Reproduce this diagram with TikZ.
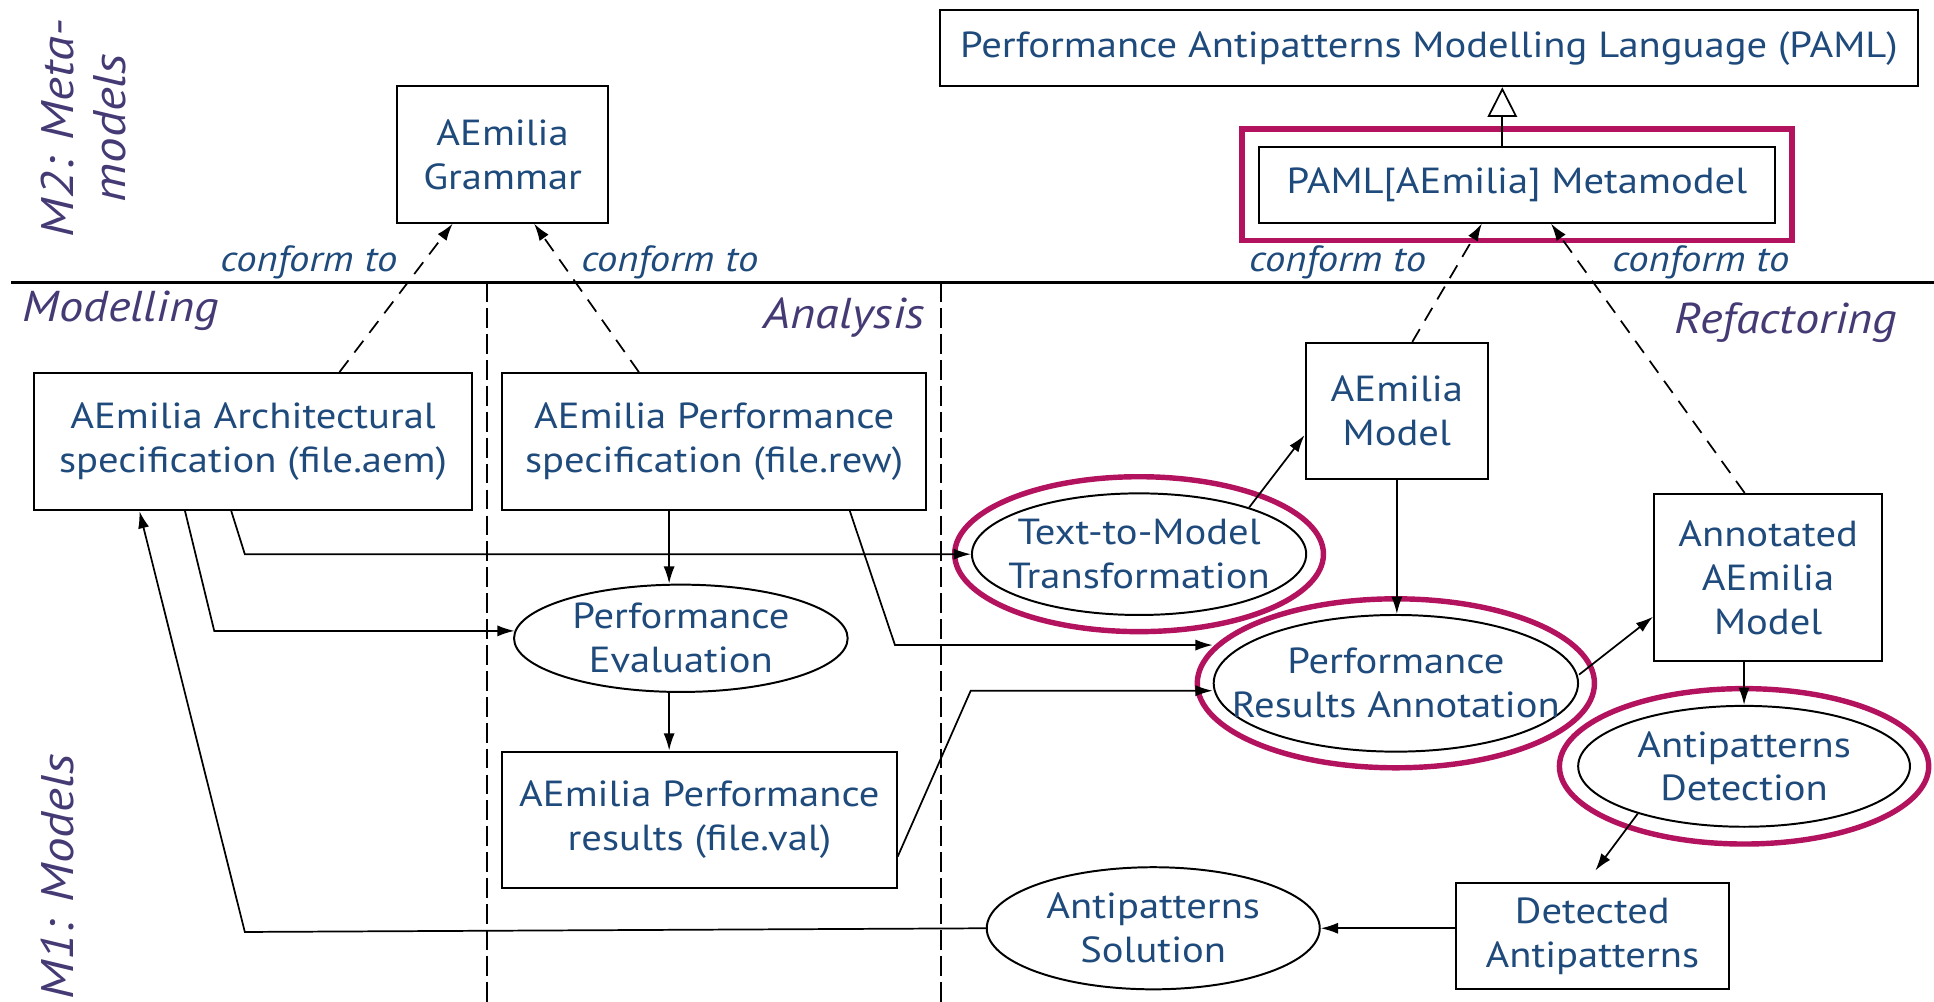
\documentclass[tikz,border=0pt]{standalone}
\usepackage{fontspec}
\setmainfont{PT Sans}[FakeStretch=1.12]
\usetikzlibrary{arrows.meta,shapes.geometric,calc}
\definecolor{txtblue}{HTML}{1F4A7C}
\definecolor{lblpurple}{HTML}{463A75}
\definecolor{hilite}{HTML}{B3135E}

\begin{document}
\begin{tikzpicture}[x=0.5pt,y=-0.5pt,
  every node/.style={font=\fontsize{14.7}{17.8}\selectfont, text=txtblue, align=center},
  box/.style={draw, line width=0.8pt, rectangle, inner sep=0pt},
  oval/.style={draw, line width=0.8pt, ellipse, inner sep=0pt},
  ring/.style={draw=hilite, line width=2.2pt},
  arr/.style={line width=0.7pt, -{Latex[length=7pt,width=4.5pt]}},
  dep/.style={arr, dash pattern=on 6pt off 4pt},
  lane/.style={line width=0.8pt, dash pattern=on 8pt off 2.5pt},
  conf/.style={font=\itshape\fontsize{14.7}{17.8}\selectfont, anchor=base},
  area/.style={font=\itshape\fontsize{17.5}{20}\selectfont, text=lblpurple, anchor=base},
  level/.style={font=\itshape\fontsize{18.5}{21}\selectfont, text=lblpurple, rotate=90}
]
\useasboundingbox (0,0) rectangle (1568,812);

% ---- level separator and swim lanes
\coordinate (sepL) at (9,229);
\coordinate (sepR) at (1568,229);
\draw[line width=1.3pt] (sepL) -- (sepR);
\coordinate (laneA) at (395,229);
\coordinate (laneB) at (763,229);
\draw[lane] (laneA) -- (laneA |- 0,812);
\draw[lane] (laneB) -- (laneB |- 0,812);

% ---- level and area labels
\node[level] (m2lbl) at (68,104) {M2: Meta-\\models};
\node[level] (m1lbl) at (47,711) {M1: Models};
\node[area] (lmod) at (98,261) {Modelling};
\node[area] (lana) at (684.5,266) {Analysis};
\node[area] (lref) at (1448,270) {Refactoring};

% ---- metamodels
\node[box, minimum width=396.5pt, minimum height=31pt] (paml) at (1158.5,39)
  {Performance Antipatterns Modelling Language (PAML)};
\node[box, minimum width=85.5pt, minimum height=55.25pt] (grammar) at (407.5,125.25)
  {AEmilia\\Grammar};
\node[box, minimum width=209.2pt, minimum height=30.75pt] (meta) at (1229.8,149.75)
  {PAML[AEmilia] Metamodel};
\draw[ring] ($(meta.north west)+(-13,-13.5)$) rectangle ($(meta.south east)+(13,13.5)$);

% ---- models
\node[box, minimum width=177.8pt, minimum height=55.5pt] (arch) at (205.2,358)
  {AEmilia Architectural\\specification (file.aem)};
\node[box, minimum width=172pt, minimum height=55.5pt] (perfspec) at (579,358)
  {AEmilia Performance\\specification (file.rew)};
\node[box, minimum width=74pt, minimum height=55.25pt] (amodel) at (1132.5,333.25)
  {AEmilia\\Model};
\node[box, minimum width=92.5pt, minimum height=67.75pt] (annot) at (1433.5,468.25)
  {Annotated\\AEmilia\\Model};
\node[box, minimum width=160pt, minimum height=55.15pt] (perfres) at (567,664.5)
  {AEmilia Performance\\results (file.val)};
\node[box, minimum width=110.65pt, minimum height=43.2pt] (detected) at (1291,758.8)
  {Detected\\Antipatterns};

% ---- activities
\node[oval, minimum width=135.25pt, minimum height=43.5pt,
  label={center:Performance\\Evaluation}] (perfeval) at (552,517.5) {};
\node[oval, minimum width=135.5pt, minimum height=49.3pt,
  label={center:Text-to-Model\\Transformation}] (t2m) at (923.5,449.3) {};
\node[oval, minimum width=147.7pt, minimum height=55.4pt,
  label={center:Performance\\Results Annotation}] (pra) at (1131.7,554) {};
\node[oval, minimum width=134.5pt, minimum height=49pt,
  label={center:Antipatterns\\Detection}] (detect) at (1414,621.3) {};
\node[oval, minimum width=135pt, minimum height=49.5pt,
  label={center:Antipatterns\\Solution}] (solution) at (935,752.6) {};

\draw[ring] (t2m.center) ellipse [x radius=74.75pt, y radius=31.4pt];
\draw[ring] (pra.center) ellipse [x radius=80.5pt, y radius=34.25pt];
\draw[ring] (detect.center) ellipse [x radius=74.85pt, y radius=31.5pt];

% ---- conformance relations
\draw[dep] ($(arch.north)+(70,0)$) -- ($(grammar.south)+(-40.5,0)$);
\draw[dep] ($(perfspec.north)+(-61,0)$) -- ($(grammar.south)+(25.5,0)$);
\draw[dep] ($(amodel.north)+(12.5,0)$) -- ($(meta.south)+(-28.4,0)$);
\draw[dep] ($(annot.north)+(-19,0)$) -- ($(meta.south)+(27.7,0)$);
\node[conf] (c1) at (250.5,220) {conform to};
\node[conf] (c2) at (543,220) {conform to};
\node[conf] (c3) at (1084.5,220) {conform to};
\node[conf] (c4) at (1379,220) {conform to};

% ---- specialisation
\coordinate (gx) at (1218,0);
\draw[line width=0.7pt, -{Triangle[open,length=12pt,width=12pt,fill=white]}]
  (gx |- meta.north) -- (gx |- paml.south);

% ---- process flow
\coordinate (b1) at (198.5,0);
\coordinate (b2) at (173.7,0);
\coordinate (b3) at (725.6,0);
\coordinate (b4) at (787,0);
\coordinate (b5) at (198.5,0);
\coordinate (ex) at (542.5,0);

\draw[arr] ($(arch.south)+(-17.7,0)$) -- (b1 |- t2m.west) -- (t2m.west);
\draw[arr] ($(arch.south)+(-55.2,0)$) -- ($(b2 |- perfeval.west)+(0,-6)$)
  -- ($(perfeval.west)+(1.3,-6)$);
\draw[arr] (ex |- perfspec.south) -- (ex |- perfeval.north);
\draw[arr] (ex |- perfeval.south) -- (ex |- perfres.north);
\draw[arr] ($(perfspec.south)+(110,0)$) -- ($(b3 |- pra.west)+(0,-31)$)
  -- ($(pra.west)+(0,-31)$);
\draw[arr] ($(perfres.east)+(0,30)$) -- ($(b4 |- pra.west)+(0,6)$)
  -- ($(pra.west)+(0,6)$);
\draw[arr] (t2m.23) -- ($(amodel.west)+(0,19.5)$);
\draw[arr] (amodel.south) -- (amodel.south |- pra.north);
\draw[arr] ($(pra.east)+(0,-7)$) -- ($(annot.west)+(0,31.75)$);
\draw[arr] (detect.north |- annot.south) -- (detect.north);
\draw[arr] (detect.204) -- ($(detected.north)+(2.4,-9)$);
\draw[arr] (detected.west |- solution.east) -- (solution.east);
\draw[arr] (solution.west) -- ($(b5 |- solution.west)+(0,3)$) -- ($(arch.south)+(-92.2,0)$);

\end{tikzpicture}
\end{document}
